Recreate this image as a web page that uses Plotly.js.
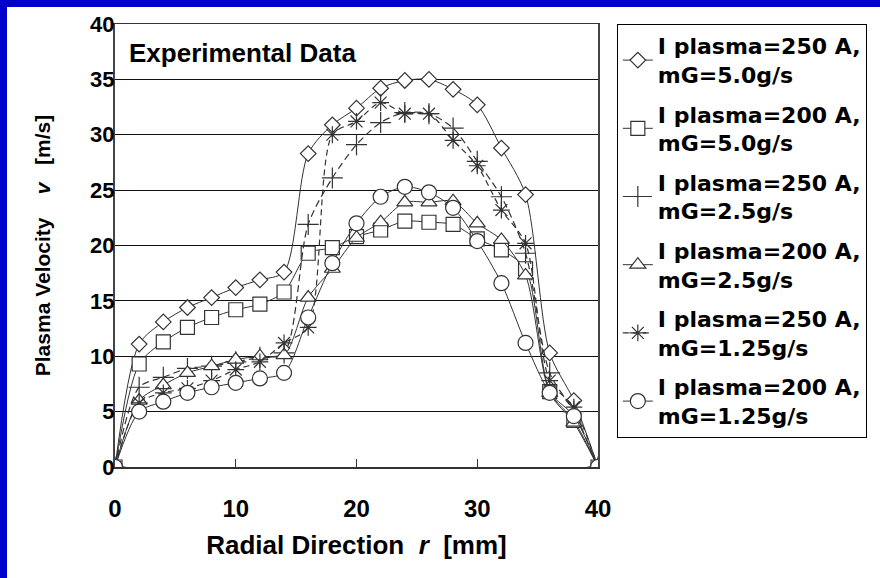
<!DOCTYPE html>
<html>
<head>
<meta charset="utf-8">
<script src="https://cdn.plot.ly/plotly-3.0.1.min.js"></script>
<style>
html,body{margin:0;padding:0;background:#0000cc;width:880px;height:578px;overflow:hidden;}
#chart{position:absolute;left:7px;top:7px;width:873px;height:571px;background:#fff;}
</style>
</head>
<body>
<div id="chart"></div>
<script>
// Radial positions [mm]
const radius = [0,2,4,6,8,10,12,14,16,18,20,22,24,26,28,30,32,34,36,38,40];

// Series names
const names = [
  "I plasma=250 A,<br>mG=5.0g/s",
  "I plasma=200 A,<br>mG=5.0g/s",
  "I plasma=250 A,<br>mG=2.5g/s",
  "I plasma=200 A,<br>mG=2.5g/s",
  "I plasma=250 A,<br>mG=1.25g/s",
  "I plasma=200 A,<br>mG=1.25g/s"
];

// Plasma velocity [m/s]
const v250_50 = [0,11.1,13.1,14.4,15.3,16.2,16.9,17.6,28.3,30.9,32.4,34.2,34.9,35.0,34.1,32.7,28.8,24.6,10.3,6.0,0];
const v200_50 = [0,9.3,11.3,12.6,13.5,14.2,14.7,15.8,19.3,19.8,20.8,21.4,22.2,22.1,21.9,20.6,19.6,17.9,6.8,4.2,0];
const v250_25 = [0,7.2,8.1,8.9,9.1,9.5,9.9,10.3,21.9,26.1,29.1,31.1,32.0,31.9,30.6,27.6,24.4,19.3,8.5,5.0,0];
const v200_25 = [0,6.0,7.4,8.5,9.1,9.7,10.0,10.1,15.3,17.9,20.7,22.1,23.9,23.9,24.0,22.0,20.5,17.3,6.7,4.0,0];
const v250_125 = [0,5.8,6.7,7.1,7.8,8.8,9.5,11.2,12.6,30.0,31.2,32.9,31.9,31.9,29.5,27.2,23.2,20.2,7.8,5.4,0];
const v200_125 = [0,5.0,5.9,6.7,7.2,7.6,8.0,8.5,13.5,18.4,22.0,24.4,25.3,24.8,23.4,20.4,16.6,11.2,6.7,4.6,0];

const yTicks = [0,5,10,15,20,25,30,35,40];
const xTicks = [0,10,20,30,40];

const series = [v250_50, v200_50, v250_25, v200_25, v250_125, v200_125];
const symbols = ["diamond","square","cross-thin-open","triangle-up","asterisk-open","circle"];
const sizes = [12,14,15,14,14,15];
const dashes = ["solid","solid","7px,4px","solid","6px,4px","solid"];
const openSym = [false,false,true,false,true,false];

const lineCol = "#333333";
const traces = series.map((ys,i)=>({
  x: radius, y: ys, name: names[i], type: "scatter", mode: "lines+markers",
  legendgroup: "g" + i,
  line: {color: lineCol, width: openSym[i] ? 1.2 : 1, dash: dashes[i], shape: "spline", smoothing: 0.8},
  marker: {symbol: symbols[i], size: sizes[i], color: openSym[i] ? lineCol : "#ffffff",
           line: {color: lineCol, width: 1.2}},
  hoverinfo: "skip"
}));

const layout = {
  width: 873, height: 571,
  margin: {l:108, r:282, t:17, b:111},
  paper_bgcolor: "#ffffff", plot_bgcolor: "#ffffff",
  showlegend: true,
  legend: {x: 1.039, y: 1.0, xanchor: "left", yanchor: "top",
           bgcolor: "#ffffff", bordercolor: "#000000", borderwidth: 1,
           font: {family: "DejaVu Sans", size: 22, color: "#000", weight: "bold"},
           tracegroupgap: 8, itemwidth: 30},
  xaxis: {range: [0,40], tickvals: xTicks, ticktext: xTicks.map(String),
          showgrid: false, zeroline: false, showline: true, mirror: true,
          linecolor: "#333", linewidth: 1.5,
          ticks: "inside", ticklen: 8, tickcolor: "#333",
          ticklabelstandoff: 20,
          tickfont: {family: "Liberation Sans Narrow, Liberation Sans", size: 24, color: "#000", weight: "bold"},
          title: {text: "Radial Direction  <i>r</i>  [mm]", standoff: 14,
                  font: {family: "Liberation Sans Narrow, Liberation Sans", size: 26, color: "#000", weight: "bold"}}},
  yaxis: {range: [0,40], tickvals: yTicks, ticktext: yTicks.map(String),
          showgrid: true, gridcolor: "#111", gridwidth: 1,
          zeroline: false, showline: true, mirror: true,
          linecolor: "#444", linewidth: 2,
          ticks: "", ticklabelstandoff: -6,
          tickfont: {family: "Liberation Sans", size: 22, color: "#000", weight: "bold"},
          title: {text: "Plasma Velocity    <i>v</i>   [m/s]", standoff: 34,
                  font: {family: "Liberation Sans", size: 21, color: "#000", weight: "bold"}}},
  annotations: [{text: "Experimental Data", xref: "paper", yref: "y", x: 0.024, y: 37.4,
                 xanchor: "left", yanchor: "middle", showarrow: false,
                 font: {family: "Liberation Sans", size: 26, color: "#000", weight: "bold"}}],
  hovermode: false
};

Plotly.newPlot("chart", traces, layout, {displayModeBar: false, staticPlot: true});
</script>
</body>
</html>
